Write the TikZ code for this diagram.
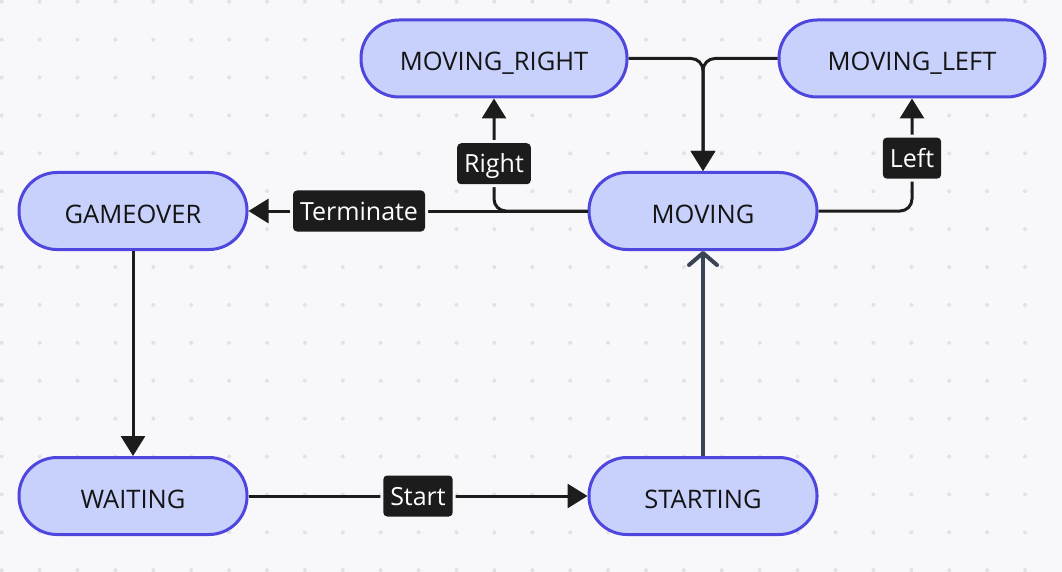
\documentclass[tikz,border=0pt]{standalone}
\usepackage{fontspec}
\setmainfont{Open Sans}
\usetikzlibrary{arrows.meta}
\definecolor{bgcol}{HTML}{F8F8FB}
\definecolor{dotcol}{HTML}{E2E2E6}
\definecolor{statefill}{HTML}{C8D1FB}
\definecolor{stateline}{HTML}{4F46DD}
\definecolor{edgecol}{HTML}{1C1C1C}
\definecolor{slate}{HTML}{3A4456}
\begin{document}
\begin{tikzpicture}[x=1pt,y=-1pt,
    state/.style={draw=stateline,fill=statefill,line width=3pt,rounded corners=38pt,minimum width=228pt,minimum height=77pt,text height=24pt,text depth=0pt,font=\fontsize{25.5}{30}\selectfont,text=black!92},
    lbl/.style={fill=edgecol,text=white,rounded corners=4pt,inner xsep=7pt,inner ysep=0pt,minimum height=41pt,text height=21pt,text depth=3pt,font=\fontsize{25}{30}\selectfont,preaction={draw=bgcol,line width=6pt}},
    arr/.style={draw=edgecol,line width=3pt,rounded corners=12pt,-{Triangle[length=20pt,width=24pt]}}]
    \useasboundingbox[fill=bgcol] (0,0) rectangle (1062,572);
    \foreach \i in {0,...,27} \foreach \j in {0,...,15} \fill[dotcol] (1.7+37.9*\i,1.7+37.9*\j) circle (2);
    \node[state] (gameover) at (133,211) {GAMEOVER};
    \node[state] (waiting) at (133,496) {WAITING};
    \node[state] (starting) at (703,496) {STARTING};
    \node[state] (moving) at (703,211) {MOVING};
    \node[state,minimum width=266pt] (mright) at (494,58.5) {MOVING\_RIGHT};
    \node[state,minimum width=266pt] (mleft) at (912,58.5) {MOVING\_LEFT};
    \draw[arr] (moving.west) -- (gameover.east) node[lbl,pos=0.674]{Terminate};
    \draw[arr] (moving.west) -| (mright.south) node[lbl,pos=0.71]{Right};
    \draw[arr] (moving.east) -| (mleft.south) node[lbl,pos=0.735]{Left};
    \draw[arr] (mright.east) -| (moving.north);
    \draw[arr] (mleft.west) -| (moving.north);
    \draw[arr] (gameover.south) -- (waiting.north);
    \draw[arr] (waiting.east) -- (starting.west) node[lbl,pos=0.5]{Start};
    \draw[slate,line width=4pt,-{Straight Barb[length=12pt,width=28pt,round]}] (starting.north) -- (moving.south);
\end{tikzpicture}
\end{document}
